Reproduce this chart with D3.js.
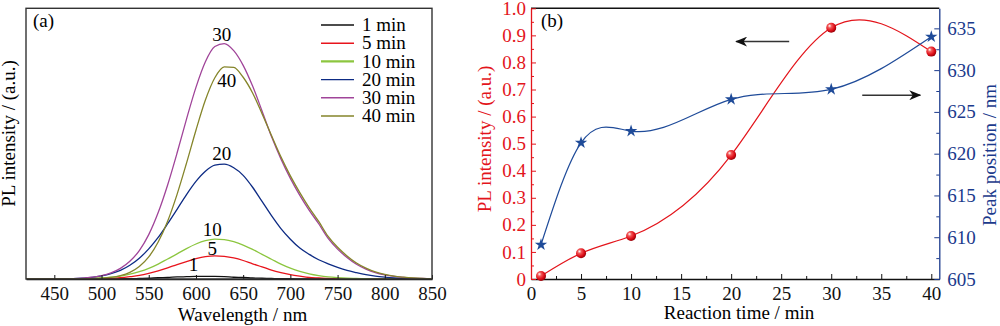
<!DOCTYPE html>
<html>
<head>
<meta charset="utf-8">
<script src="https://cdn.jsdelivr.net/npm/d3@7"></script>
<style>
  body { margin: 0; background: #fff; }
  svg { display: block; }
  text { font-family: "Liberation Serif", "Times New Roman", serif; }
</style>
</head>
<body>
<svg id="chart" width="1000" height="326" font-family="Liberation Serif, Times New Roman, serif"></svg>
<script>
// ---- panel (a): PL spectra, every 10 nm ----
const wavelength = [420, 430, 440, 450, 460, 470, 480, 490, 500, 510, 520, 530, 540, 550, 560, 570, 580, 590, 600, 610,
  620, 630, 640, 650, 660, 670, 680, 690, 700, 710, 720, 730, 740, 750, 760, 770, 780, 790, 800, 810, 820, 830, 840, 850];

const spec1 = [0, 0, 0, 0, 0, 0, 0, 0, 0, 0, .001, .001, .002, .003, .005, .006, .008, .009, .010, .010,
  .010, .009, .007, .006, .004, .003, .002, .001, .001, 0, 0, 0, 0, 0, 0, 0, 0, 0, 0, 0, 0, 0, 0, 0];
const spec5 = [0, 0, 0, 0, 0, 0, 0, 0, .001, .003, .005, .009, .014, .022, .032, .044, .057, .069, .080, .088,
  .091, .089, .083, .073, .060, .048, .035, .025, .017, .011, .006, .004, .002, .001, 0, 0, 0, 0, 0, 0, 0, 0, 0, 0];
const spec10 = [0, 0, 0, 0, 0, 0, .001, .002, .004, .007, .011, .019, .029, .042, .059, .079, .099, .120, .138, .151,
  .157, .155, .147, .134, .117, .097, .078, .059, .043, .030, .020, .013, .008, .005, .003, .002, .001, 0, 0, 0, 0, 0, 0, 0];
const spec20 = [0, 0, 0, 0, 0, .001, .003, .006, .012, .021, .034, .054, .082, .119, .164, .218, .275, .333, .385, .425,
  .449, .453, .439, .409, .362, .306, .250, .199, .157, .122, .097, .076, .060, .046, .034, .025, .017, .011, .007, .004, .002, .001, 0, 0];
const spec30 = [0, 0, 0, 0, 0, .001, .003, .007, .013, .024, .042, .070, .112, .175, .262, .371, .497, .631, .756, .857,
  .917, .929, .901, .843, .761, .663, .562, .474, .397, .330, .271, .218, .160, .118, .085, .058, .039, .025, .016, .010, .006, .003, .002, .001];
const spec40 = [0, 0, 0, 0, 0, 0, 0, .001, .003, .006, .013, .026, .049, .087, .146, .228, .334, .457, .587, .706,
  .794, .837, .835, .796, .734, .652, .566, .482, .407, .341, .281, .227, .168, .125, .091, .063, .043, .028, .018, .011, .007, .004, .002, .001];

const legendNames = ["1 min", "5 min", "10 min", "20 min", "30 min", "40 min"];
const curveNames = ["1", "5", "10", "20", "30", "40"];
const wlTicks = [450, 500, 550, 600, 650, 700, 750, 800, 850];

// ---- panel (b): peak intensity and position vs reaction time ----
const reactionTime = [1, 5, 10, 20, 30, 40];
const plIntensity = [0.011, 0.095, 0.159, 0.458, 0.928, 0.840];
const peakPosition = [609.1, 621.3, 622.7, 626.5, 627.7, 634.0];
const timeTicks = [0, 5, 10, 15, 20, 25, 30, 35, 40];
const timeMinor = [2.5, 7.5, 12.5, 17.5, 22.5, 27.5, 32.5, 37.5];
const intTicks = [0, 0.1, 0.2, 0.3, 0.4, 0.5, 0.6, 0.7, 0.8, 0.9, 1.0];
const intMinor = [0.05, 0.15, 0.25, 0.35, 0.45, 0.55, 0.65, 0.75, 0.85, 0.95];
const peakTicks = [605, 610, 615, 620, 625, 630, 635];
const peakMinor = [607.5, 612.5, 617.5, 622.5, 627.5, 632.5];

const svg = d3.select("#chart");
const FS = 19;
const SERIF = "Liberation Serif, Times New Roman, serif";
const RED = "#e3141b", BLUE = "#1b3a8c";

function styleAxis(g, color) {
  g.attr("font-size", FS).attr("font-family", SERIF);
  g.selectAll("text").attr("fill", color);
  g.selectAll("line").attr("stroke", color);
  g.selectAll(".domain").attr("stroke", color).attr("stroke-width", 1.3);
}

// natural cubic spline y(x), drawn as bezier pieces (like Origin's spline connect)
function curveSplineX(context) {
  let xs, ys;
  return {
    areaStart() {}, areaEnd() {},
    lineStart() { xs = []; ys = []; },
    point(x, y) { xs.push(+x); ys.push(+y); },
    lineEnd() {
      const n = xs.length;
      if (!n) return;
      context.moveTo(xs[0], ys[0]);
      if (n < 3) { for (let i = 1; i < n; i++) context.lineTo(xs[i], ys[i]); return; }
      const h = [], M = new Array(n).fill(0), b = [], d = [];
      for (let i = 0; i < n - 1; i++) h[i] = xs[i + 1] - xs[i];
      for (let i = 1; i < n - 1; i++) {
        b[i] = 2 * (h[i - 1] + h[i]);
        d[i] = 6 * ((ys[i + 1] - ys[i]) / h[i] - (ys[i] - ys[i - 1]) / h[i - 1]);
      }
      for (let i = 2; i < n - 1; i++) {
        const w = h[i - 1] / b[i - 1];
        b[i] -= w * h[i - 1];
        d[i] -= w * d[i - 1];
      }
      for (let i = n - 2; i >= 1; i--) M[i] = (d[i] - h[i] * M[i + 1]) / b[i];
      const slope = i => i < n - 1
        ? (ys[i + 1] - ys[i]) / h[i] - h[i] * (2 * M[i] + M[i + 1]) / 6
        : (ys[i] - ys[i - 1]) / h[i - 1] + h[i - 1] * (M[i - 1] + 2 * M[i]) / 6;
      for (let i = 0; i < n - 1; i++) {
        const t = h[i] / 3;
        context.bezierCurveTo(xs[i] + t, ys[i] + t * slope(i), xs[i + 1] - t, ys[i + 1] - t * slope(i + 1), xs[i + 1], ys[i + 1]);
      }
    }
  };
}

// ================= panel (a) =================
const xA = d3.scaleLinear().domain([420, 850]).range([26, 432]);
const yA = d3.scaleLinear().domain([0, 1.068]).range([279, 8.3]);

svg.append("clipPath").attr("id", "clipA").append("rect")
  .attr("x", 26).attr("y", 8.3).attr("width", 406).attr("height", 270.7);

const specs = [spec1, spec5, spec10, spec20, spec30, spec40];
const specColors = ["#111111", "#e8141c", "#8cc63f", "#0d2b84", "#a04499", "#85852a"];

const lineA = d3.line()
  .x((d, i) => xA(wavelength[i]))
  .y(d => yA(d))
  .curve(d3.curveMonotoneX);

svg.append("g").attr("clip-path", "url(#clipA)")
  .selectAll("path").data(specs).join("path")
  .attr("d", lineA)
  .attr("fill", "none")
  .attr("stroke", (d, i) => specColors[i])
  .attr("stroke-width", 1.3);

svg.append("g").attr("transform", "translate(0,279)")
  .call(d3.axisBottom(xA).tickValues(wlTicks).tickSize(-4).tickSizeOuter(0).tickPadding(7.5).tickFormat(d3.format("d")))
  .call(g => styleAxis(g, "#111"));

svg.append("rect").attr("x", 26).attr("y", 8.3).attr("width", 406).attr("height", 270.7)
  .attr("fill", "none").attr("stroke", "#333").attr("stroke-width", 1.4);

// curve labels near each peak
const labelShift = [[-2.5, -5], [-2.5, -1], [-2.5, -3], [-2.5, -4], [-2.5, -2.5], [2.5, 20.5]];
svg.append("g").selectAll("text").data(specs).join("text")
  .attr("x", (d, i) => xA(wavelength[d.indexOf(d3.max(d))]) + labelShift[i][0])
  .attr("y", (d, i) => yA(d3.max(d)) + labelShift[i][1])
  .attr("text-anchor", "middle").attr("font-size", FS)
  .text((d, i) => curveNames[i]);

// legend
const leg = svg.append("g");
legendNames.forEach((name, i) => {
  const y = 25 + i * 18.2;
  leg.append("line").attr("x1", 321).attr("x2", 354).attr("y1", y).attr("y2", y)
    .attr("stroke", specColors[i]).attr("stroke-width", i === 2 ? 2.2 : 1.4);
  leg.append("text").attr("x", 362).attr("y", y).attr("dy", "0.33em")
    .attr("font-size", FS).text(name);
});

svg.append("text").attr("x", 33).attr("y", 27).attr("font-size", FS).text("(a)");
svg.append("text").attr("transform", "translate(15,133.5) rotate(-90)")
  .attr("text-anchor", "middle").attr("font-size", FS).text("PL intensity / (a.u.)");
svg.append("text").attr("x", 242.5).attr("y", 321).attr("text-anchor", "middle")
  .attr("font-size", FS).text("Wavelength / nm");

// ================= panel (b) =================
const xB = d3.scaleLinear().domain([0, 40.8]).range([531, 939.3]);
const yB = d3.scaleLinear().domain([0, 1]).range([279, 8.3]);
const yP = d3.scaleLinear().domain([605, 637.4]).range([279, 8.3]);

svg.append("line").attr("x1", 531).attr("x2", 939.3).attr("y1", 8.3).attr("y2", 8.3)
  .attr("stroke", "#111").attr("stroke-width", 1.4);

svg.append("g").attr("transform", "translate(0,279)")
  .call(d3.axisBottom(xB).tickValues(timeTicks).tickSize(-5).tickSizeOuter(0).tickPadding(7.5).tickFormat(d3.format("d")))
  .call(g => styleAxis(g, "#111"));
svg.append("g").attr("transform", "translate(0,279)")
  .call(d3.axisBottom(xB).tickValues(timeMinor).tickSize(-3).tickSizeOuter(0).tickFormat(""))
  .call(g => { styleAxis(g, "#111"); g.select(".domain").remove(); });

svg.append("g").attr("transform", "translate(531,0)")
  .call(d3.axisLeft(yB).tickValues(intTicks).tickSize(-5).tickSizeOuter(0).tickPadding(5)
    .tickFormat(d => d === 0 ? "0" : d3.format(".1f")(d)))
  .call(g => styleAxis(g, RED));
svg.append("g").attr("transform", "translate(531,0)")
  .call(d3.axisLeft(yB).tickValues(intMinor).tickSize(-3).tickSizeOuter(0).tickFormat(""))
  .call(g => { styleAxis(g, RED); g.select(".domain").remove(); });

svg.append("g").attr("transform", "translate(939.3,0)")
  .call(d3.axisRight(yP).tickValues(peakTicks).tickSize(-5).tickSizeOuter(0).tickPadding(8).tickFormat(d3.format("d")))
  .call(g => styleAxis(g, BLUE));
svg.append("g").attr("transform", "translate(939.3,0)")
  .call(d3.axisRight(yP).tickValues(peakMinor).tickSize(-3).tickSizeOuter(0).tickFormat(""))
  .call(g => { styleAxis(g, BLUE); g.select(".domain").remove(); });

// defs: sphere gradient and arrow head
const defs = svg.append("defs");
const grad = defs.append("radialGradient").attr("id", "ball").attr("cx", "40%").attr("cy", "38%").attr("r", "62%")
  .attr("fx", "33%").attr("fy", "30%");
grad.append("stop").attr("offset", "0%").attr("stop-color", "#ffffff");
grad.append("stop").attr("offset", "30%").attr("stop-color", "#f25a5a");
grad.append("stop").attr("offset", "70%").attr("stop-color", "#e0101a");
grad.append("stop").attr("offset", "100%").attr("stop-color", "#9a0008");
defs.append("marker").attr("id", "head").attr("viewBox", "0 0 12 10").attr("refX", 11).attr("refY", 5)
  .attr("markerWidth", 12).attr("markerHeight", 10).attr("markerUnits", "userSpaceOnUse").attr("orient", "auto")
  .append("path").attr("d", "M0,0 L12,5 L0,10 L3.5,5 Z").attr("fill", "#111");

// fitted curves
svg.append("path").datum(reactionTime)
  .attr("d", d3.line().x(d => xB(d)).y((d, i) => yB(plIntensity[i])).curve(curveSplineX))
  .attr("fill", "none").attr("stroke", RED).attr("stroke-width", 1.2);
svg.append("path").datum(reactionTime)
  .attr("d", d3.line().x(d => xB(d)).y((d, i) => yP(peakPosition[i])).curve(curveSplineX))
  .attr("fill", "none").attr("stroke", "#1f4b99").attr("stroke-width", 1.2);

// markers
svg.append("g").selectAll("path").data(reactionTime).join("path")
  .attr("transform", (d, i) => `translate(${xB(d)},${yP(peakPosition[i])})`)
  .attr("d", d3.symbol(d3.symbolStar, 48))
  .attr("fill", "#1f4b99");
svg.append("g").selectAll("circle").data(reactionTime).join("circle")
  .attr("cx", d => xB(d)).attr("cy", (d, i) => yB(plIntensity[i])).attr("r", 5)
  .attr("fill", "url(#ball)");

// arrows pointing at the axes
svg.append("line").attr("x1", xB(25.8)).attr("x2", xB(20.5)).attr("y1", yB(0.877)).attr("y2", yB(0.877))
  .attr("stroke", "#333").attr("stroke-width", 1.5).attr("marker-end", "url(#head)");
svg.append("line").attr("x1", xB(33.1)).attr("x2", xB(38.9)).attr("y1", yP(627)).attr("y2", yP(627))
  .attr("stroke", "#333").attr("stroke-width", 1.5).attr("marker-end", "url(#head)");

svg.append("text").attr("x", 541).attr("y", 27).attr("font-size", FS).text("(b)");
svg.append("text").attr("transform", "translate(491,139) rotate(-90)")
  .attr("text-anchor", "middle").attr("font-size", FS).attr("fill", RED).text("PL intensity / (a.u.)");
svg.append("text").attr("transform", "translate(996,155) rotate(-90)")
  .attr("text-anchor", "middle").attr("font-size", FS).attr("fill", BLUE).text("Peak position / nm");
svg.append("text").attr("x", 739).attr("y", 319).attr("text-anchor", "middle")
  .attr("font-size", FS).text("Reaction time / min");
</script>
</body>
</html>
